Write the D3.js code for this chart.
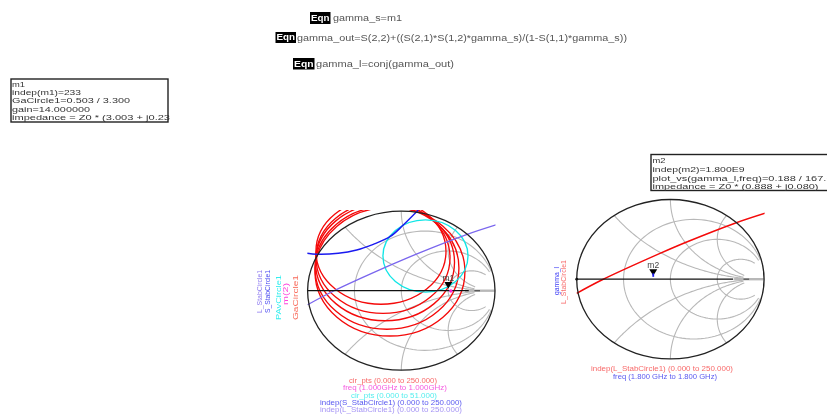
<!DOCTYPE html>
<html><head><meta charset="utf-8">
<script src="https://cdn.jsdelivr.net/npm/d3@7"></script>
<style>
html,body{margin:0;padding:0;background:#fff;overflow:hidden}
svg{display:block;filter:blur(0.55px)}
text{font-family:"Liberation Sans",Arial,sans-serif}
</style></head><body>
<script>
// Smith grid values
const gridR = [1/3, 1, 3];
const gridX = [0.5, 1, 2];
const gridMax = 8;
// Gain circles GaCircle1 (gamma plane)
const gainCx = [-0.217, -0.195, -0.174, -0.153, -0.121];
const gainCy = [0.494, 0.416, 0.358, 0.287, 0.239];
const gainRx = [0.694, 0.715, 0.742, 0.768, 0.800];
const gainRy = [0.665, 0.701, 0.736, 0.772, 0.809];
// Available power circle
const pavCx = [0.258], pavCy = [0.436], pavR = [0.454];
// Stability circles (gamma plane points)
const sStabRe = [-1.003, -0.903, -0.672, -0.476, -0.299, -0.121, 0.021, 0.181];
const sStabIm = [0.470, 0.458, 0.470, 0.512, 0.583, 0.679, 0.826, 1.014];
const lStabRe = [-1.0, -0.733, -0.111, 0.174, 0.689, 1.01];
const lStabIm = [-0.177, -0.010, 0.324, 0.467, 0.703, 0.828];
// Markers
const m1Mag = 0.503, m1Ang = 3.3;
const m2Mag = 0.188, m2Ang = 167;
const m1Point = [0.529, -0.004];
// Text
const eqns = [
  ["gamma_s=m1", 310, 330.5, 12, 24, 333, 402],
  ["gamma_out=S(2,2)+((S(2,1)*S(1,2)*gamma_s)/(1-S(1,1)*gamma_s))", 275.5, 296, 32, 43, 297, 627],
  ["gamma_l=conj(gamma_out)", 293, 314.5, 58, 69.5, 316, 454]
];
const m1Lines = ["m1", "indep(m1)=233", "GaCircle1=0.503 / 3.300", "gain=14.000000", "impedance = Z0 * (3.003 + j0.23"];
const m1Y = [86.5, 95, 102.5, 112, 120];
const m1W = [13, 69, 118, 78, 158];
const m2Lines = ["m2", "indep(m2)=1.800E9", "plot_vs(gamma_l,freq)=0.188 / 167.0", "impedance = Z0 * (0.888 + j0.080)"];
const m2Y = [163, 171.5, 180.5, 189];
const m2W = [13, 92, 180, 166];
const leftVert = [["L_StabCircle1", 262, "#8f7cf0", 270, 313], ["S_StabCircle1", 270, "#4a4af0", 270, 313], ["PAvCircle1", 281, "#33eeee", 275, 320], ["m(2)", 288, "#ff44dd", 283, 305], ["GaCircle1", 298, "#f86a5a", 275, 320]];
const rightVert = [["gamma_l", 558.5, "#3a3af5", 267, 295], ["L_StabCircle1", 565.5, "#f86a6a", 260, 304]];
const leftBottom = [["cir_pts (0.000 to 250.000)", 349, 437, 382.5, "#f86a6a"], ["freq (1.000GHz to 1.000GHz)", 343, 447, 390, "#f55ce0"], ["cir_pts (0.000 to 51.000)", 351, 437, 397.5, "#55eeee"], ["indep(S_StabCircle1) (0.000 to 250.000)", 320, 462, 404.5, "#5a5af0"], ["indep(L_StabCircle1) (0.000 to 250.000)", 320, 462, 411.5, "#a796f5"]];
const rightBottom = [["indep(L_StabCircle1) (0.000 to 250.000)", 591, 733, 371, "#f86a6a"], ["freq (1.800 GHz to 1.800 GHz)", 613, 717, 379, "#5a5af0"]];

const svg = d3.select("body").append("svg").attr("width", 827).attr("height", 415);

function makePlot(id, cx, cy, rx, ry, clipTop) {
  const x = d3.scaleLinear().domain([-1, 1]).range([cx - rx, cx + rx]);
  const y = d3.scaleLinear().domain([-1, 1]).range([cy + ry, cy - ry]);
  const g = svg.append("g");
  svg.append("defs").append("clipPath").attr("id", id).append("rect")
    .attr("x", x(-1) - 0.5).attr("y", clipTop).attr("width", 2 * rx + 1).attr("height", cy + ry + 1 - clipTop);
  const gamma = (r, xx) => { const d = (r + 1) * (r + 1) + xx * xx; return [(r * r - 1 + xx * xx) / d, 2 * xx / d]; };
  const line = d3.line().x(d => x(d[0])).y(d => y(d[1]));
  const grey = "#b8b8b8";
  const sweep = d3.scalePow().exponent(3).domain([0, 1]).range([0, gridMax]);
  gridR.forEach(r => {
    const ts = d3.range(-1, 1.0001, 0.01).map(t => Math.sign(t) * sweep(Math.abs(t)));
    g.append("path").attr("d", line(ts.map(t => gamma(r, t)))).attr("fill", "none").attr("stroke", grey).attr("stroke-width", 1.1);
  });
  gridX.forEach(v => [1, -1].forEach(s => {
    const ts = d3.range(0, 1.0001, 0.01).map(sweep);
    g.append("path").attr("d", line(ts.map(t => gamma(t, s * v)))).attr("fill", "none").attr("stroke", grey).attr("stroke-width", 1.1);
  }));
  g.append("line").attr("x1", x(0.68)).attr("x2", x(1)).attr("y1", y(0)).attr("y2", y(0)).attr("stroke", grey).attr("stroke-width", 2.4);
  const inner = g.append("g").attr("clip-path", `url(#${id})`);
  return { x, y, g, inner, line };
}

function finishAxis(p, end) {
  p.g.append("line").attr("x1", p.x(-1)).attr("x2", p.x(end)).attr("y1", p.y(0)).attr("y2", p.y(0)).attr("stroke", "#111").attr("stroke-width", 1.3);
  p.g.append("line").attr("x1", p.x(0.78)).attr("x2", p.x(0.84)).attr("y1", p.y(0)).attr("y2", p.y(0)).attr("stroke", "#555").attr("stroke-width", 1.3);
  p.g.append("ellipse").attr("cx", p.x(0)).attr("cy", p.y(0)).attr("rx", p.x(1) - p.x(0)).attr("ry", p.y(0) - p.y(1))
    .attr("fill", "none").attr("stroke", "#222").attr("stroke-width", 1.3);
}

function marker(p, mag, ang, label) {
  const a = ang * Math.PI / 180, mx = p.x(mag * Math.cos(a)), my = p.y(mag * Math.sin(a));
  p.g.append("path").attr("d", d3.line()([[mx - 4, my - 6.5], [mx + 4, my - 6.5], [mx, my]]) + "Z").attr("fill", "#000");
  p.g.append("text").attr("x", mx).attr("y", my - 7.5).attr("text-anchor", "middle").attr("font-size", 8.5).attr("fill", "#444").text(label);
  return [mx, my];
}

// Left plot
const L = makePlot("clipL", 401.3, 290.7, 93.7, 79.5, 210);
finishAxis(L, 0.72);
gainCx.forEach((c, i) => {
  L.inner.append("ellipse").attr("cx", L.x(c)).attr("cy", L.y(gainCy[i]))
    .attr("rx", L.x(gainRx[i]) - L.x(0)).attr("ry", L.y(0) - L.y(gainRy[i]))
    .attr("fill", "none").attr("stroke", "#f40a0a").attr("stroke-width", 1.35);
});
L.inner.append("ellipse").attr("cx", L.x(pavCx[0])).attr("cy", L.y(pavCy[0]))
  .attr("rx", L.x(pavR[0]) - L.x(0)).attr("ry", L.y(0) - L.y(pavR[0]))
  .attr("fill", "none").attr("stroke", "#12e6e6").attr("stroke-width", 1.35);
const smooth = d3.line().x(d => d[0]).y(d => d[1]).curve(d3.curveCatmullRom);
L.inner.append("path").attr("d", smooth(sStabRe.map((v, i) => [L.x(v), L.y(sStabIm[i])])))
  .attr("fill", "none").attr("stroke", "#1a1af0").attr("stroke-width", 1.5);
L.inner.append("path").attr("d", smooth(lStabRe.map((v, i) => [L.x(v), L.y(lStabIm[i])])))
  .attr("fill", "none").attr("stroke", "#7a66ee").attr("stroke-width", 1.3);
marker(L, m1Mag, m1Ang, "m1");
L.g.append("circle").attr("cx", L.x(m1Point[0])).attr("cy", L.y(m1Point[1])).attr("r", 1.7).attr("fill", "#ff22dd");

// Right plot
const R = makePlot("clipR", 670.4, 279.2, 93.7, 79.7, 195);
finishAxis(R, 0.67);
R.inner.append("path").attr("d", smooth(lStabRe.map((v, i) => [R.x(v), R.y(lStabIm[i])])))
  .attr("fill", "none").attr("stroke", "#f40a0a").attr("stroke-width", 1.5);
const m2Pos = marker(R, m2Mag, m2Ang, "m2");
R.g.append("rect").attr("x", m2Pos[0] - 0.9).attr("y", m2Pos[1] - 2.5).attr("width", 1.8).attr("height", 3.5).attr("fill", "#1a1af0");
R.g.append("circle").attr("cx", R.x(-1)).attr("cy", R.y(0)).attr("r", 1.4).attr("fill", "#111");

// Equations
eqns.forEach(e => {
  svg.append("rect").attr("x", e[1]).attr("y", e[3]).attr("width", e[2] - e[1]).attr("height", e[4] - e[3]).attr("fill", "#000");
  svg.append("text").attr("x", e[1] + 1).attr("y", e[4] - 3).attr("fill", "#fff").attr("font-size", 8.5).attr("font-weight", "bold")
    .attr("textLength", e[2] - e[1] - 2).attr("lengthAdjust", "spacingAndGlyphs").text("Eqn");
  svg.append("text").attr("x", e[5]).attr("y", (e[3] + e[4]) / 2 + 3).attr("fill", "#555").attr("font-size", 8.5)
    .attr("textLength", e[6] - e[5]).attr("lengthAdjust", "spacingAndGlyphs").text(e[0]);
});

// Marker boxes
svg.append("rect").attr("x", 11).attr("y", 79).attr("width", 157).attr("height", 43).attr("fill", "#fff").attr("stroke", "#222").attr("stroke-width", 1.4);
m1Lines.forEach((t, i) => svg.append("text").attr("x", 12).attr("y", m1Y[i]).attr("font-size", 8).attr("fill", "#333")
  .attr("textLength", m1W[i]).attr("lengthAdjust", "spacingAndGlyphs").text(t));
svg.append("rect").attr("x", 651).attr("y", 154.5).attr("width", 190).attr("height", 36).attr("fill", "#fff").attr("stroke", "#222").attr("stroke-width", 1.4);
m2Lines.forEach((t, i) => svg.append("text").attr("x", 652.5).attr("y", m2Y[i]).attr("font-size", 8).attr("fill", "#333")
  .attr("textLength", m2W[i]).attr("lengthAdjust", "spacingAndGlyphs").text(t));

// Rotated legends
leftVert.concat(rightVert).forEach(v => {
  svg.append("text").attr("transform", `translate(${v[1]},${v[4]}) rotate(-90)`).attr("font-size", 6.5).attr("fill", v[2])
    .attr("textLength", v[4] - v[3]).attr("lengthAdjust", "spacingAndGlyphs").text(v[0]);
});
// Bottom legends
leftBottom.concat(rightBottom).forEach(b => {
  svg.append("text").attr("x", b[1]).attr("y", b[3]).attr("font-size", 6.8).attr("fill", b[4])
    .attr("textLength", b[2] - b[1]).attr("lengthAdjust", "spacingAndGlyphs").text(b[0]);
});
</script>
</body></html>
